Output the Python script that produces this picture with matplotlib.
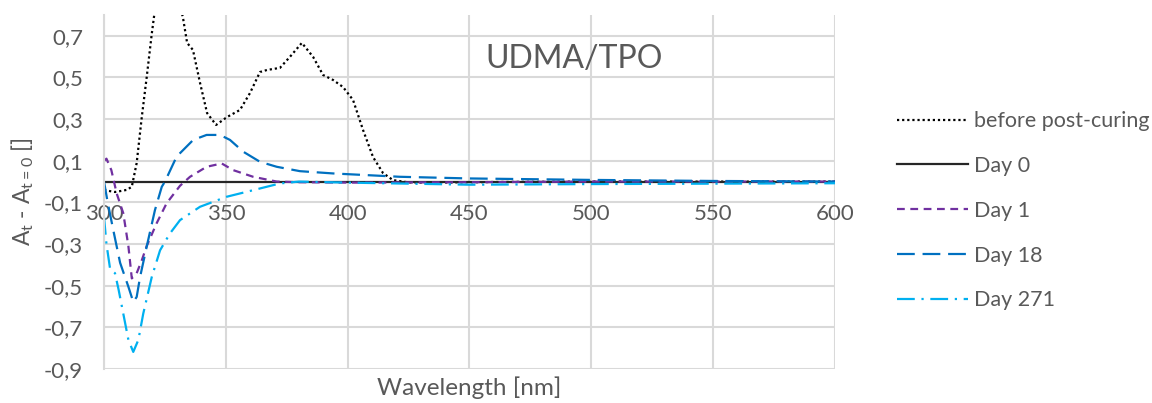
import matplotlib.pyplot as plt
from matplotlib.ticker import FuncFormatter

# Difference spectra A_t - A_t=0 of UDMA/TPO samples
wl_before = [300, 302, 304.5, 307, 309.3, 311.4, 313.4, 315.5, 317.5, 319.6, 321.5,
             323, 325, 327, 329, 331, 332.5, 334.1, 336.5, 339.4, 342.3, 346,
             350.5, 355.8, 359.9, 364, 366.9, 372.2, 376.3, 381.2, 385.8, 389.9,
             394, 398.1, 402.2, 406.3, 410.4, 414.5, 418.6, 425, 435, 460, 500, 550, 600]
abs_before = [-0.04, -0.045, -0.05, -0.045, -0.04, -0.025, 0.089, 0.31, 0.5, 0.71, 0.88,
              0.98, 1.05, 1.04, 0.97, 0.86, 0.78, 0.666, 0.632, 0.474, 0.329, 0.272,
              0.31, 0.344, 0.425, 0.526, 0.536, 0.546, 0.599, 0.666, 0.599, 0.512,
              0.488, 0.454, 0.392, 0.248, 0.118, 0.041, 0.007, -0.004, -0.005, -0.002, 0.0, 0.0, 0.0]

wl_day0 = [300, 600]
abs_day0 = [0.0, 0.0]

wl_day1 = [300, 301, 303, 305.2, 307.9, 310, 311.4, 313.4, 315.5, 317.5, 321.6, 325.7,
           331.2, 335.3, 342.1, 348.3, 353, 361.2, 370.9, 380, 400, 450, 500, 600]
abs_day1 = [0.1, 0.11, 0.055, -0.057, -0.152, -0.31, -0.465, -0.44, -0.378, -0.31, -0.2, -0.104,
            -0.02, 0.023, 0.071, 0.087, 0.055, 0.023, 0.0, -0.003, -0.005, -0.003, 0.0, 0.0]

wl_day18 = [300, 301.5, 303.8, 306.6, 310, 312, 313.4, 314.8, 317.5, 320.9, 323.7, 325,
            329.8, 336.6, 342.1, 347.6, 351.7, 357.2, 364, 370.9, 380.4, 394.1, 407.8,
            421.5, 450, 500, 550, 600]
abs_day18 = [0.0, -0.1, -0.233, -0.39, -0.505, -0.578, -0.554, -0.458, -0.313, -0.137, -0.025, 0.0,
             0.12, 0.2, 0.224, 0.224, 0.2, 0.143, 0.095, 0.071, 0.05, 0.039, 0.031,
             0.023, 0.015, 0.008, 0.003, 0.0]

wl_day271 = [300, 301, 302.5, 304.5, 306, 307.9, 310, 312, 314.1, 316.1, 319.6, 323,
             327, 331.2, 339.4, 350.3, 361.3, 372.2, 380, 400, 450, 500, 550, 600]
abs_day271 = [-0.17, -0.3, -0.42, -0.44, -0.52, -0.634, -0.76, -0.818, -0.76, -0.634, -0.458, -0.33,
              -0.25, -0.185, -0.121, -0.073, -0.041, -0.009, 0.0, -0.005, -0.015, -0.012, -0.01, -0.008]

x_ticks = [300, 350, 400, 450, 500, 550, 600]
y_ticks = [-0.9, -0.7, -0.5, -0.3, -0.1, 0.1, 0.3, 0.5, 0.7]

plt.rcParams['font.family'] = ['Lato', 'DejaVu Sans']
plt.rcParams['mathtext.default'] = 'regular'
text_color = '#595959'
grid_color = '#D9D9D9'

fig = plt.figure(figsize=(11.52, 4.03), dpi=100)
ax = fig.add_axes([0.0903, 0.0844, 0.6345, 0.8784])

ax.plot(wl_before, abs_before, color='black', lw=1.6, linestyle=(0, (1, 1.3)),
        label='before post-curing')
ax.plot(wl_day0, abs_day0, color='#262626', lw=1.6, label='Day 0')
ax.plot(wl_day1, abs_day1, color='#7030A0', lw=1.6, linestyle=(0, (3.5, 2.5)), label='Day 1')
ax.plot(wl_day18, abs_day18, color='#0070C0', lw=1.6, linestyle=(0, (8, 3.5)), label='Day 18')
ax.plot(wl_day271, abs_day271, color='#00B0F0', lw=1.6, linestyle=(0, (8, 3, 1, 3)), label='Day 271')

ax.set_xlim(300, 600)
ax.set_ylim(-0.9, 0.8)
ax.set_xticks(x_ticks)
ax.set_yticks(y_ticks)
ax.yaxis.set_major_formatter(FuncFormatter(lambda v, p: f'{v:.1f}'.replace('.', ',')))
ax.grid(True, color=grid_color, lw=1.5)
ax.set_axisbelow(True)
for side in ['top', 'right', 'bottom']:
    ax.spines[side].set_visible(False)
ax.spines['left'].set_color(grid_color)
ax.spines['left'].set_linewidth(1.5)

# horizontal axis crosses at zero, labels just below it
ax.spines['bottom'].set_position(('data', 0))
ax.tick_params(axis='both', length=0, labelsize=16, labelcolor=text_color)
ax.tick_params(axis='x', pad=16)
ax.tick_params(axis='y', pad=15)

ax.set_xlabel('Wavelength [nm]', fontsize=17.5, color=text_color)
ax.xaxis.set_label_coords(0.5, -0.02)
ax.set_ylabel('A$_t$ - A$_{t=0}$ []', fontsize=16.5, color=text_color)
ax.yaxis.set_label_coords(-0.093, 0.5)

ax.text(493, 0.59, 'UDMA/TPO', fontsize=23, color=text_color, ha='center', va='center')

leg = fig.legend(loc='upper left', bbox_to_anchor=(0.762, 0.772), frameon=False,
                 fontsize=15.5, handlelength=3.3, handletextpad=0.25, labelspacing=1.15)
for t in leg.get_texts():
    t.set_color(text_color)

fig.savefig('out.png', dpi=100)
